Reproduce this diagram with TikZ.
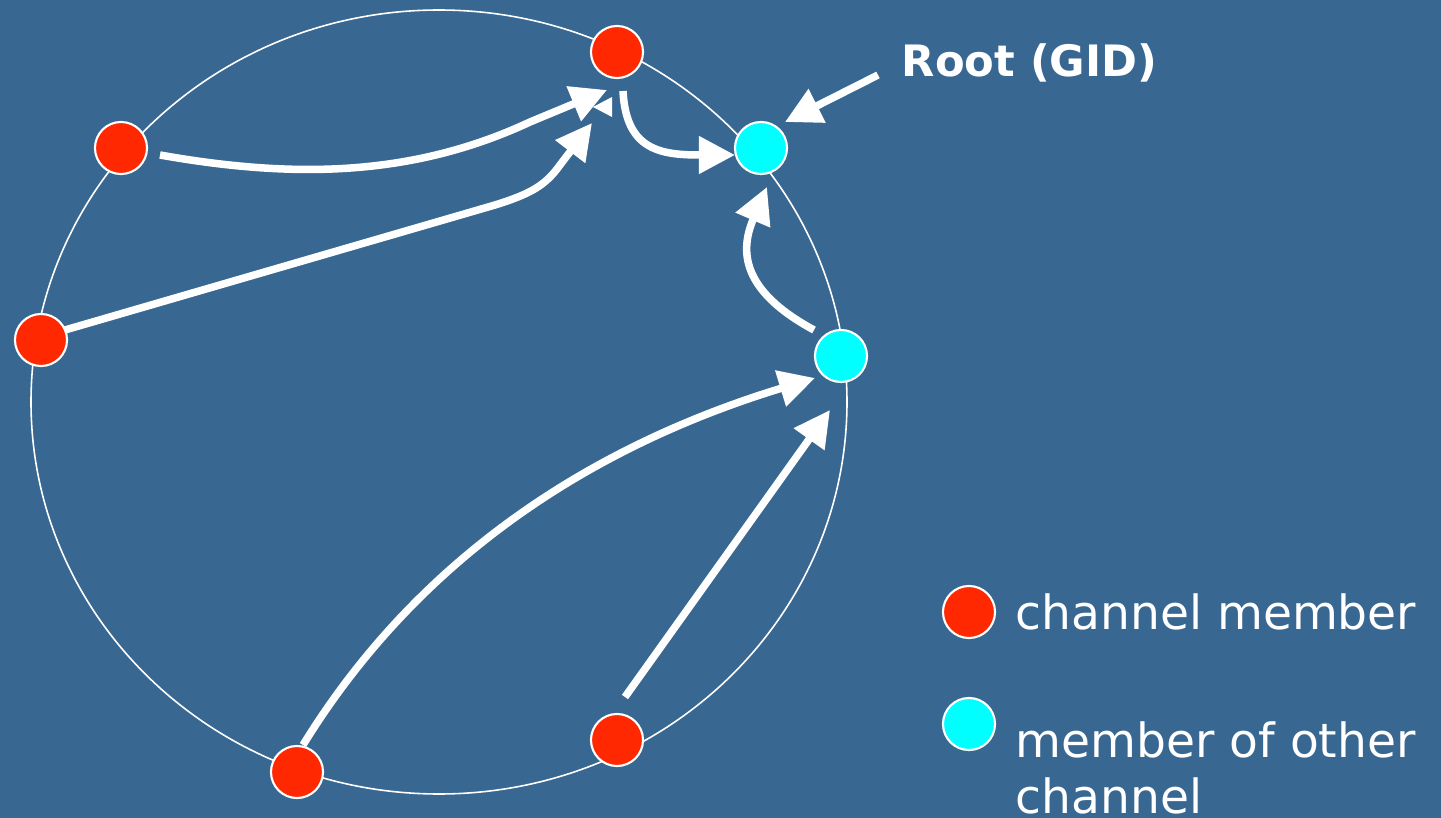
\documentclass[tikz,border=0pt]{standalone}
\usepackage{fontspec}
\setmainfont{DejaVu Sans}
\usetikzlibrary{arrows.meta}
\definecolor{slidebg}{RGB}{56,104,146}
\definecolor{memberred}{RGB}{255,40,0}
\definecolor{othercyan}{RGB}{0,255,255}
\tikzset{
  member/.style={circle, draw=white, line width=0.6pt, fill=memberred,
    minimum size=0.52cm, inner sep=0pt},
  other/.style={member, fill=othercyan},
  flow/.style={draw=white, line width=0.075cm,
    -{Triangle[length=0.36cm, width=0.36cm]}},
  legendtext/.style={text=white, font=\fontsize{13.4pt}{15.9pt}\selectfont,
    inner sep=0pt, align=left},
}
\begin{document}
\begin{tikzpicture}[x=0.01cm, y=-0.01cm]
  % canvas
  \fill[slidebg] (0,0) rectangle (1441,818);
  \useasboundingbox (0,0) rectangle (1441,818);

  % the ring of the channel
  \draw[white, line width=0.45pt] (439,402) ellipse [x radius=408, y radius=392];

  % members on the ring
  \node[member] (top)  at (617,52)  {};
  \node[member] (ul)   at (121,148) {};
  \node[member] (left) at (41,340)  {};
  \node[member] (bl)   at (297,772) {};
  \node[member] (br)   at (617,740) {};
  \node[other]  (root) at (761,148) {};
  \node[other]  (rc)   at (841,356) {};

  % free ends of the flows
  \coordinate (s1) at (160,155);  \coordinate (e1) at (607,90);
  \coordinate (s2) at (65,330);   \coordinate (e2) at (592,123);
  \coordinate (s3) at (623,91);   \coordinate (e3) at (735,155);
  \coordinate (s4) at (814,330);  \coordinate (e4) at (767,187);
  \coordinate (s6) at (303,745);  \coordinate (e6) at (815,378);
  \coordinate (s7) at (625,697);  \coordinate (e7) at (830,410);

  % flows towards the top member
  \draw[flow] (s1) .. controls (290,178) and (410,178) .. (530,122) -- (e1);
  \draw[flow] (s2) -- (495,205) .. controls (530,194) and (545,186) .. (560,165) -- (e2);
  \fill[white] (593,107) -- (612,97) -- (612,117) -- cycle;

  % flows towards the root
  \draw[flow] (s3) .. controls (626,150) and (660,155) .. (e3);
  \draw[flow] (s4) .. controls (740,290) and (740,250) .. (e4);

  % flows towards the other-channel member
  \draw[flow] (s6) .. controls (420,555) and (595,445) .. (e6);
  \draw[flow] (s7) -- (e7);

  % root label
  \node[text=white, font=\fontsize{12.3pt}{14pt}\selectfont\bfseries,
        inner sep=0pt, anchor=base west] (rootlabel) at (901,77) {Root (GID)};
  \coordinate (rl) at (878,75);
  \draw[flow] (rl) -- (785,122);

  % legend
  \node[member] (legred)  at (969,612) {};
  \node[other]  (legcyan) at (969,724) {};
  \node[legendtext, anchor=base west] (legtext1) at (1015,629) {channel member};
  \node[legendtext, anchor=base west] (legtext2) at (1015,813) {member of other\\channel};
\end{tikzpicture}
\end{document}
